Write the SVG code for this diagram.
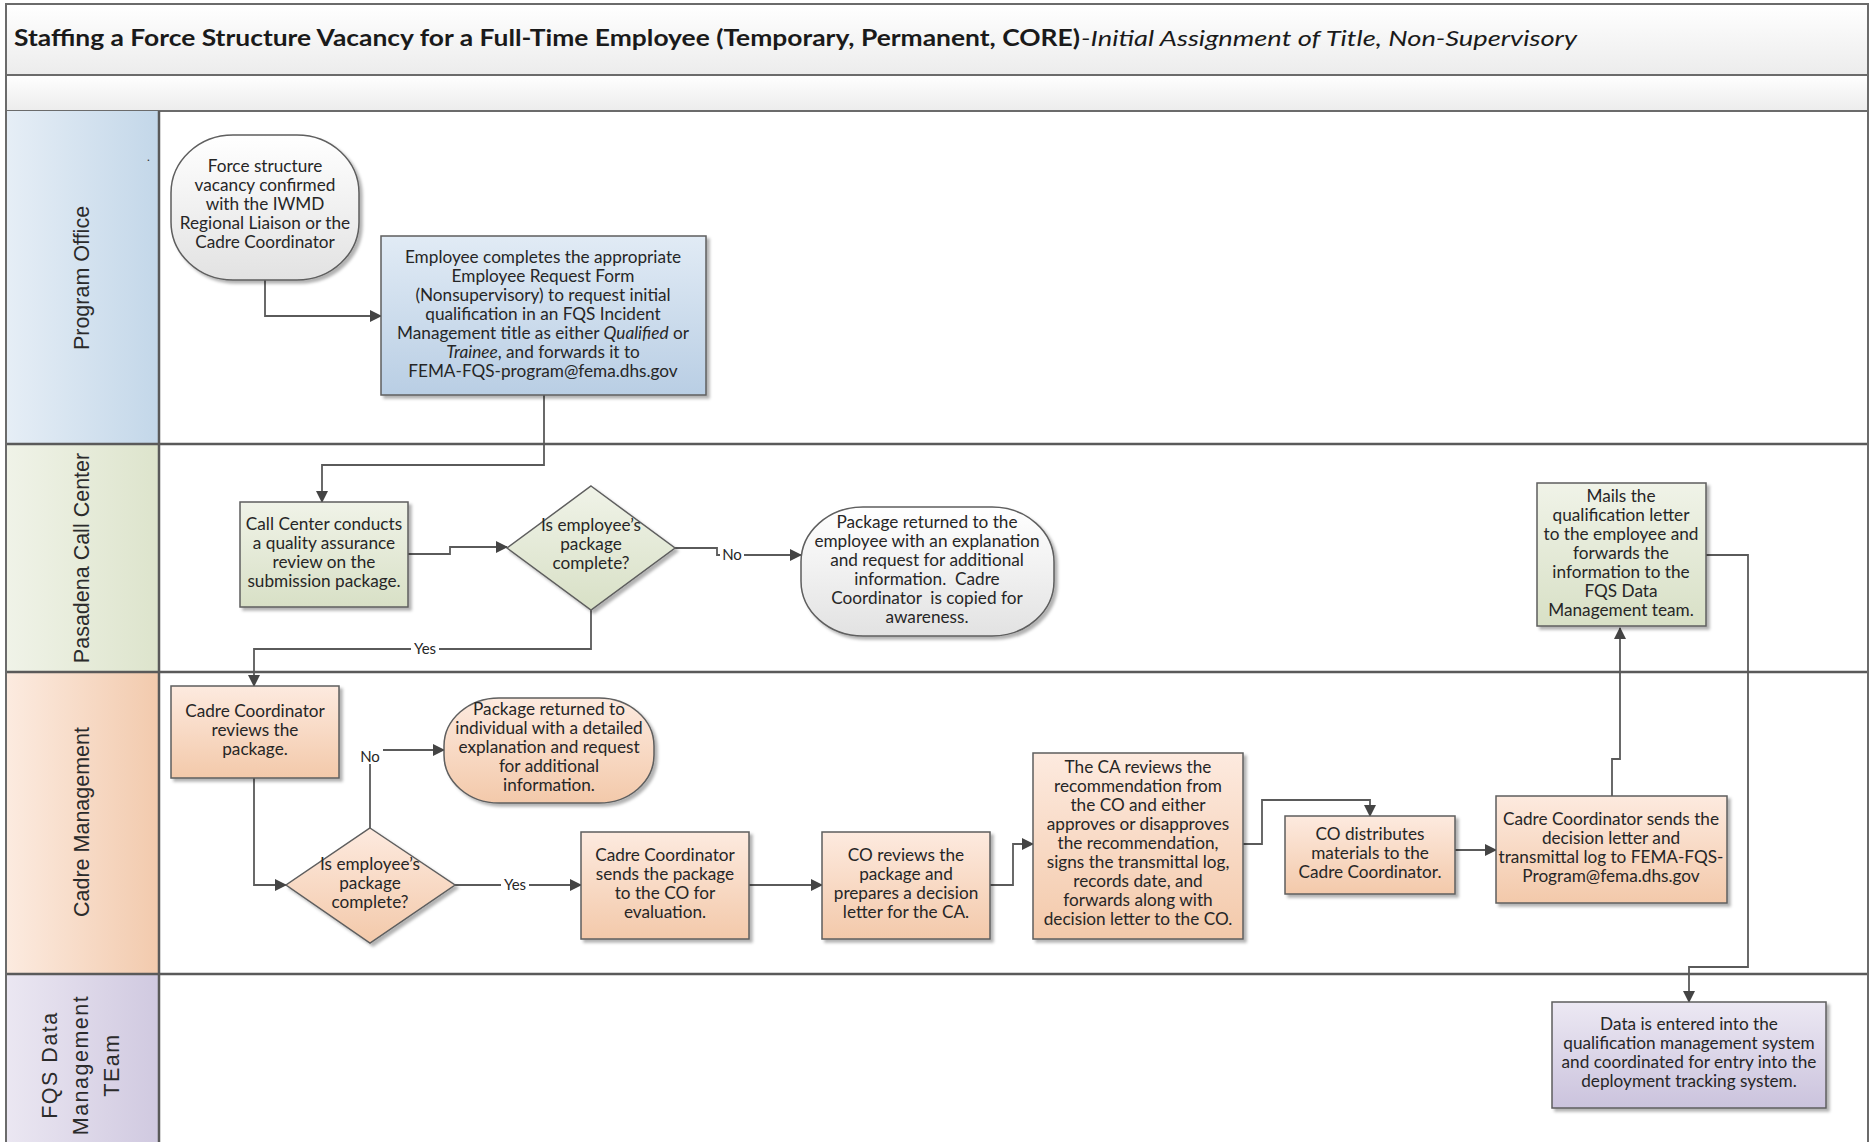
<svg xmlns="http://www.w3.org/2000/svg" width="1871" height="1142" viewBox="0 0 1871 1142">
  <style>
    .frame { fill: none; stroke: #6b6b6b; stroke-width: 2; }
    .laneline { stroke: #5a5a5a; stroke-width: 2.5; fill: none; }
    .box { stroke: #5e5e5e; stroke-width: 1.5; filter: url(#shadow); }
    .t { font-family: Lato, "Liberation Sans", sans-serif; font-size: 17.2px; fill: #262626; text-anchor: middle; white-space: pre; }
    .lane { font-family: "Liberation Sans", Arial, sans-serif; font-size: 21.5px; fill: #2b2b2b; text-anchor: middle; }
    .conn { fill: none; stroke: #5a5a5a; stroke-width: 1.8; marker-end: url(#arrow); }
    .lbl { font-family: Lato, "Liberation Sans", sans-serif; font-size: 15px; fill: #262626; text-anchor: middle; }
    .lblbg { fill: #ffffff; }
  </style>
  <defs>
    <marker id="arrow" markerWidth="12" markerHeight="12" refX="11" refY="6" orient="auto" markerUnits="userSpaceOnUse">
      <path d="M0,0 L12,6 L0,12 z" fill="#444444"/>
    </marker>
    <filter id="shadow" x="-10%" y="-10%" width="125%" height="125%">
      <feDropShadow dx="3" dy="3" stdDeviation="1.5" flood-color="#000000" flood-opacity="0.3"/>
    </filter>
    <linearGradient id="gBand" x1="0" y1="0" x2="0" y2="1">
      <stop offset="0" stop-color="#ffffff"/>
      <stop offset="1" stop-color="#ececec"/>
    </linearGradient>
    <linearGradient id="gGrey" x1="0" y1="0" x2="0" y2="1">
      <stop offset="0" stop-color="#ffffff"/>
      <stop offset="1" stop-color="#e2e2e2"/>
    </linearGradient>
    <linearGradient id="gBlue" x1="0" y1="0" x2="0" y2="1">
      <stop offset="0" stop-color="#e1ebf5"/>
      <stop offset="1" stop-color="#b9cee4"/>
    </linearGradient>
    <linearGradient id="gGreen" x1="0" y1="0" x2="0" y2="1">
      <stop offset="0" stop-color="#f0f3e8"/>
      <stop offset="1" stop-color="#d8e0c6"/>
    </linearGradient>
    <linearGradient id="gOrange" x1="0" y1="0" x2="0" y2="1">
      <stop offset="0" stop-color="#fdeadf"/>
      <stop offset="1" stop-color="#f3c9aa"/>
    </linearGradient>
    <linearGradient id="gPurple" x1="0" y1="0" x2="0" y2="1">
      <stop offset="0" stop-color="#ece8f3"/>
      <stop offset="1" stop-color="#cbc3dd"/>
    </linearGradient>
    <linearGradient id="hBlue" x1="0" y1="0" x2="1" y2="0">
      <stop offset="0" stop-color="#e6eef6"/>
      <stop offset="1" stop-color="#c3d7e9"/>
    </linearGradient>
    <linearGradient id="hGreen" x1="0" y1="0" x2="1" y2="0">
      <stop offset="0" stop-color="#f0f3e8"/>
      <stop offset="1" stop-color="#dde4cc"/>
    </linearGradient>
    <linearGradient id="hOrange" x1="0" y1="0" x2="1" y2="0">
      <stop offset="0" stop-color="#fcebe0"/>
      <stop offset="1" stop-color="#f2caad"/>
    </linearGradient>
    <linearGradient id="hPurple" x1="0" y1="0" x2="1" y2="0">
      <stop offset="0" stop-color="#ebe7f2"/>
      <stop offset="1" stop-color="#d0c9e0"/>
    </linearGradient>
  </defs>

  <rect width="1871" height="1142" fill="#ffffff"/>

  <!-- title and sub-header bands -->
  <g id="header">
    <rect x="6" y="4" width="1862" height="71" fill="url(#gBand)" stroke="#6b6b6b" stroke-width="2"/>
    <rect x="6" y="75" width="1862" height="36" fill="url(#gBand)" stroke="#6b6b6b" stroke-width="2"/>
    <text x="14" y="46" font-family="Lato, 'Liberation Sans', sans-serif" font-size="22px" font-weight="bold" fill="#1a1a1a" textLength="1066" lengthAdjust="spacingAndGlyphs">Staffing a Force Structure Vacancy for a Full-Time Employee (Temporary, Permanent, CORE)</text>
    <text x="1081" y="46" font-family="Lato, 'Liberation Sans', sans-serif" font-size="22px" font-style="italic" fill="#1a1a1a" textLength="496" lengthAdjust="spacingAndGlyphs">-Initial Assignment of Title, Non-Supervisory</text>
  </g>

  <!-- swimlanes -->
  <g id="lanes">
    <rect x="6" y="111" width="153" height="333" fill="url(#hBlue)"/>
    <rect x="6" y="444" width="153" height="228" fill="url(#hGreen)"/>
    <rect x="6" y="672" width="153" height="302" fill="url(#hOrange)"/>
    <rect x="6" y="974" width="153" height="168" fill="url(#hPurple)"/>
    <line class="laneline" x1="159" y1="111" x2="159" y2="1142" stroke-width="2"/>
    <line class="laneline" x1="6" y1="444" x2="1868" y2="444"/>
    <line class="laneline" x1="6" y1="672" x2="1868" y2="672"/>
    <line class="laneline" x1="6" y1="974" x2="1868" y2="974"/>
    <line class="frame" x1="6" y1="111" x2="6" y2="1142"/>
    <line class="frame" x1="1868" y1="111" x2="1868" y2="1142"/>
    <text class="lane" transform="translate(89,278) rotate(-90)">Program Office</text>
    <text x="147" y="161" font-family="Lato, sans-serif" font-size="12px" fill="#333333">.</text>
    <text class="lane" transform="translate(89,558) rotate(-90)">Pasadena Call Center</text>
    <text class="lane" transform="translate(89,822) rotate(-90)" font-size="23px">Cadre Management</text>
    <text class="lane" transform="translate(57,1065) rotate(-90)" letter-spacing="1.5">FQS Data</text>
    <text class="lane" transform="translate(88,1065) rotate(-90)" letter-spacing="1.5">Management</text>
    <text class="lane" transform="translate(119,1065) rotate(-90)" letter-spacing="1.5">TEam</text>
  </g>

  <!-- connectors -->
  <g id="connectors">
    <path class="conn" d="M265,280 V316 H381"/>
    <path class="conn" d="M544,395 V465 H322 V502"/>
    <path class="conn" d="M408,554 H450 V547 H507"/>
    <path class="conn" d="M675,548 H717 V555 H801"/>
    <rect class="lblbg" x="720" y="546" width="24" height="17"/>
    <text class="lbl" x="732" y="560">No</text>
    <path class="conn" d="M591,610 V649 H254 V686"/>
    <rect class="lblbg" x="411" y="641" width="28" height="17"/>
    <text class="lbl" x="425" y="654">Yes</text>
    <path class="conn" d="M254,778 V885 H286"/>
    <path class="conn" d="M370,828 V750 H444"/>
    <rect class="lblbg" x="357" y="747" width="26" height="17"/>
    <text class="lbl" x="370" y="762">No</text>
    <path class="conn" d="M455,885 H581"/>
    <rect class="lblbg" x="501" y="877" width="28" height="17"/>
    <text class="lbl" x="515" y="890">Yes</text>
    <path class="conn" d="M749,885 H822"/>
    <path class="conn" d="M990,885 H1013 V844 H1033"/>
    <path class="conn" d="M1243,844 H1262 V800 H1370 V816"/>
    <path class="conn" d="M1455,850 H1496"/>
    <path class="conn" d="M1612,796 V759 H1620 V628"/>
    <path class="conn" d="M1706,555 H1748 V967 H1689 V1002"/>
  </g>

  <!-- Program Office lane -->
  <g id="n-vacancy-confirmed">
    <rect class="box" x="171" y="135" width="188" height="145" rx="62" ry="58" fill="url(#gGrey)"/>
    <text class="t"><tspan x="265" y="172">Force structure</tspan><tspan x="265" y="191">vacancy confirmed</tspan><tspan x="265" y="210">with the IWMD</tspan><tspan x="265" y="229">Regional Liaison or the</tspan><tspan x="265" y="248">Cadre Coordinator</tspan></text>
  </g>
  <g id="n-employee-request">
    <rect class="box" x="381" y="236" width="325" height="159" fill="url(#gBlue)"/>
    <text class="t"><tspan x="543" y="263">Employee completes the appropriate</tspan><tspan x="543" y="282">Employee Request Form</tspan><tspan x="543" y="301">(Nonsupervisory) to request initial</tspan><tspan x="543" y="320">qualification in an FQS Incident</tspan><tspan x="543" y="339">Management title as either <tspan font-style="italic">Qualified</tspan> or</tspan><tspan x="543" y="358"><tspan font-style="italic">Trainee</tspan>, and forwards it to</tspan><tspan x="543" y="377">FEMA-FQS-program@fema.dhs.gov</tspan></text>
  </g>

  <!-- Pasadena Call Center lane -->
  <g id="n-qa-review">
    <rect class="box" x="240" y="502" width="168" height="105" fill="url(#gGreen)"/>
    <text class="t"><tspan x="324" y="530">Call Center conducts</tspan><tspan x="324" y="549">a quality assurance</tspan><tspan x="324" y="568">review on the</tspan><tspan x="324" y="587">submission package.</tspan></text>
  </g>
  <g id="n-package-complete-1">
    <path class="box" d="M591,486 L675,548 L591,610 L507,548 Z" fill="url(#gGreen)"/>
    <text class="t"><tspan x="591" y="531">Is employee’s</tspan><tspan x="591" y="550">package</tspan><tspan x="591" y="569">complete?</tspan></text>
  </g>
  <g id="n-returned-employee">
    <rect class="box" x="801" y="507" width="253" height="129" rx="62" ry="55" fill="url(#gGrey)"/>
    <text class="t"><tspan x="927" y="528">Package returned to the</tspan><tspan x="927" y="547">employee with an explanation</tspan><tspan x="927" y="566">and request for additional</tspan><tspan x="927" y="585">information.  Cadre</tspan><tspan x="927" y="604">Coordinator  is copied for</tspan><tspan x="927" y="623">awareness.</tspan></text>
  </g>
  <g id="n-mails-letter">
    <rect class="box" x="1537" y="483" width="169" height="143" fill="url(#gGreen)"/>
    <text class="t"><tspan x="1621" y="502">Mails the</tspan><tspan x="1621" y="521">qualification letter</tspan><tspan x="1621" y="540">to the employee and</tspan><tspan x="1621" y="559">forwards the</tspan><tspan x="1621" y="578">information to the</tspan><tspan x="1621" y="597">FQS Data</tspan><tspan x="1621" y="616">Management team.</tspan></text>
  </g>

  <!-- Cadre Management lane -->
  <g id="n-cc-reviews">
    <rect class="box" x="171" y="686" width="168" height="92" fill="url(#gOrange)"/>
    <text class="t"><tspan x="255" y="717">Cadre Coordinator</tspan><tspan x="255" y="736">reviews the</tspan><tspan x="255" y="755">package.</tspan></text>
  </g>
  <g id="n-package-complete-2">
    <path class="box" d="M370,828 L455,885 L370,943 L286,885 Z" fill="url(#gOrange)"/>
    <text class="t"><tspan x="370" y="870">Is employee’s</tspan><tspan x="370" y="889">package</tspan><tspan x="370" y="908">complete?</tspan></text>
  </g>
  <g id="n-returned-individual">
    <rect class="box" x="444" y="698" width="210" height="105" rx="55" ry="48" fill="url(#gOrange)"/>
    <text class="t"><tspan x="549" y="715">Package returned to</tspan><tspan x="549" y="734">individual with a detailed</tspan><tspan x="549" y="753">explanation and request</tspan><tspan x="549" y="772">for additional</tspan><tspan x="549" y="791">information.</tspan></text>
  </g>
  <g id="n-send-to-co">
    <rect class="box" x="581" y="832" width="168" height="107" fill="url(#gOrange)"/>
    <text class="t"><tspan x="665" y="861">Cadre Coordinator</tspan><tspan x="665" y="880">sends the package</tspan><tspan x="665" y="899">to the CO for</tspan><tspan x="665" y="918">evaluation.</tspan></text>
  </g>
  <g id="n-co-reviews">
    <rect class="box" x="822" y="832" width="168" height="107" fill="url(#gOrange)"/>
    <text class="t"><tspan x="906" y="861">CO reviews the</tspan><tspan x="906" y="880">package and</tspan><tspan x="906" y="899">prepares a decision</tspan><tspan x="906" y="918">letter for the CA.</tspan></text>
  </g>
  <g id="n-ca-reviews">
    <rect class="box" x="1033" y="753" width="210" height="186" fill="url(#gOrange)"/>
    <text class="t"><tspan x="1138" y="773">The CA reviews the</tspan><tspan x="1138" y="792">recommendation from</tspan><tspan x="1138" y="811">the CO and either</tspan><tspan x="1138" y="830">approves or disapproves</tspan><tspan x="1138" y="849">the recommendation,</tspan><tspan x="1138" y="868">signs the transmittal log,</tspan><tspan x="1138" y="887">records date, and</tspan><tspan x="1138" y="906">forwards along with</tspan><tspan x="1138" y="925">decision letter to the CO.</tspan></text>
  </g>
  <g id="n-co-distributes">
    <rect class="box" x="1285" y="816" width="170" height="78" fill="url(#gOrange)"/>
    <text class="t"><tspan x="1370" y="840">CO distributes</tspan><tspan x="1370" y="859">materials to the</tspan><tspan x="1370" y="878">Cadre Coordinator.</tspan></text>
  </g>
  <g id="n-cc-sends-decision">
    <rect class="box" x="1496" y="796" width="231" height="107" fill="url(#gOrange)"/>
    <text class="t"><tspan x="1611" y="825">Cadre Coordinator sends the</tspan><tspan x="1611" y="844">decision letter and</tspan><tspan x="1611" y="863">transmittal log to FEMA-FQS-</tspan><tspan x="1611" y="882">Program@fema.dhs.gov</tspan></text>
  </g>

  <!-- FQS Data Management lane -->
  <g id="n-data-entered">
    <rect class="box" x="1552" y="1002" width="274" height="106" fill="url(#gPurple)"/>
    <text class="t"><tspan x="1689" y="1030">Data is entered into the</tspan><tspan x="1689" y="1049">qualification management system</tspan><tspan x="1689" y="1068">and coordinated for entry into the</tspan><tspan x="1689" y="1087">deployment tracking system.</tspan></text>
  </g>
</svg>
